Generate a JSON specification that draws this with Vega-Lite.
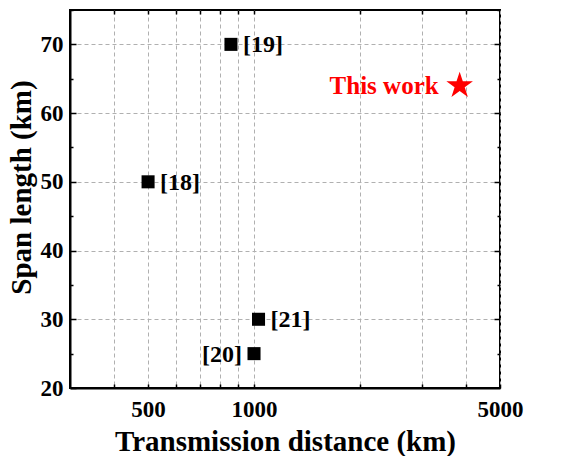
{
  "$schema": "https://vega.github.io/schema/vega-lite/v6.json",
  "width": 430,
  "height": 378,
  "autosize": {"type": "none"},
  "padding": {"left": 70, "top": 10, "right": 70, "bottom": 68},
  "background": "white",
  "config": {
    "view": {"stroke": "black", "strokeWidth": 2},
    "axis": {
      "domainColor": "black",
      "domainWidth": 2,
      "tickColor": "black",
      "tickWidth": 1.5,
      "labelFont": "Liberation Serif",
      "labelFontWeight": "bold",
      "labelFontSize": 23,
      "labelColor": "black",
      "titleFont": "Liberation Serif",
      "titleFontWeight": "bold",
      "titleFontSize": 29,
      "titleColor": "black",
      "gridColor": "#b0b0b0",
      "gridDash": [4, 3],
      "gridWidth": 1
    }
  },
  "data": {
    "values": [
      {"ref": "[18]", "dist": 500, "span": 50, "side": "right", "kind": "ref"},
      {"ref": "[19]", "dist": 860, "span": 70, "side": "right", "kind": "ref"},
      {"ref": "[20]", "dist": 1000, "span": 25, "side": "left", "kind": "ref"},
      {"ref": "[21]", "dist": 1030, "span": 30, "side": "right", "kind": "ref"},
      {"ref": "This work", "dist": 3840, "span": 64, "side": "left", "kind": "this"}
    ]
  },
  "layer": [
    {
      "transform": [{"filter": "datum.kind === 'ref'"}],
      "mark": {"type": "point", "shape": "square", "filled": true, "color": "black", "size": 170, "opacity": 1},
      "encoding": {
        "x": {
          "field": "dist", "type": "quantitative",
          "scale": {"type": "log", "domain": [300, 5000], "nice": false},
          "axis": {
            "orient": "bottom",
            "title": "Transmission distance (km)",
            "values": [400, 500, 600, 700, 800, 900, 1000, 2000, 3000, 4000, 5000],
            "labelExpr": "(datum.value === 500 || datum.value === 1000 || datum.value === 5000) ? '' + datum.value : ''",
            "tickSize": -4,
            "labelPadding": 14,
            "titlePadding": 6,
            "grid": true,
            "labelFlush": false,
            "labelOverlap": false
          }
        },
        "y": {
          "field": "span", "type": "quantitative",
          "scale": {"domain": [20, 75], "nice": false, "zero": false},
          "axis": {
            "orient": "left",
            "title": "Span length (km)",
            "values": [20, 30, 40, 50, 60, 70],
            "tickSize": -6,
            "labelPadding": 13,
            "titlePadding": 4,
            "titleY": 177,
            "grid": true
          }
        }
      }
    },
    {
      "transform": [{"filter": "datum.kind === 'this'"}],
      "mark": {"type": "point", "shape": "M0,-1L0.225,-0.309L0.951,-0.309L0.363,0.118L0.588,0.809L0,0.382L-0.588,0.809L-0.363,0.118L-0.951,-0.309L-0.225,-0.309Z", "filled": true, "color": "#ff0000", "size": 780, "opacity": 1},
      "encoding": {
        "x": {
          "field": "dist", "type": "quantitative",
          "axis": {
            "orient": "top", "title": null, "labels": false, "grid": false, "domain": false,
            "values": [400, 500, 600, 700, 800, 900, 1000, 2000, 3000, 4000],
            "tickSize": -4
          }
        },
        "y": {
          "field": "span", "type": "quantitative",
          "axis": {
            "orient": "right", "title": null, "labels": false, "grid": false, "domain": false,
            "values": [30, 40, 50, 60, 70],
            "tickSize": -6
          }
        }
      }
    },
    {
      "transform": [{"filter": "datum.kind === 'ref' && datum.side === 'right'"}],
      "mark": {"type": "text", "align": "left", "baseline": "middle", "dx": 12, "dy": 1, "fontSize": 24, "fontWeight": "bold", "font": "Liberation Serif", "color": "black"},
      "encoding": {
        "x": {"field": "dist", "type": "quantitative", "axis": null},
        "y": {
          "field": "span", "type": "quantitative",
          "axis": {
            "orient": "left", "title": null, "labels": false, "grid": false, "domain": false,
            "values": [25, 35, 45, 55, 65, 75],
            "tickSize": -3
          }
        },
        "text": {"field": "ref"}
      }
    },
    {
      "transform": [{"filter": "datum.kind === 'ref' && datum.side === 'left'"}],
      "mark": {"type": "text", "align": "right", "baseline": "middle", "dx": -12, "dy": 1, "fontSize": 24, "fontWeight": "bold", "font": "Liberation Serif", "color": "black"},
      "encoding": {
        "x": {"field": "dist", "type": "quantitative", "axis": null},
        "y": {
          "field": "span", "type": "quantitative",
          "axis": {
            "orient": "right", "title": null, "labels": false, "grid": false, "domain": false,
            "values": [25, 35, 45, 55, 65, 75],
            "tickSize": -3
          }
        },
        "text": {"field": "ref"}
      }
    },
    {
      "transform": [{"filter": "datum.kind === 'this'"}],
      "mark": {"type": "text", "align": "right", "baseline": "middle", "dx": -21, "fontSize": 25, "fontWeight": "bold", "font": "Liberation Serif", "color": "#ff0000"},
      "encoding": {
        "x": {"field": "dist", "type": "quantitative", "axis": null},
        "y": {"field": "span", "type": "quantitative", "axis": null},
        "text": {"field": "ref"}
      }
    }
  ],
  "resolve": {"axis": {"x": "independent", "y": "independent"}}
}
